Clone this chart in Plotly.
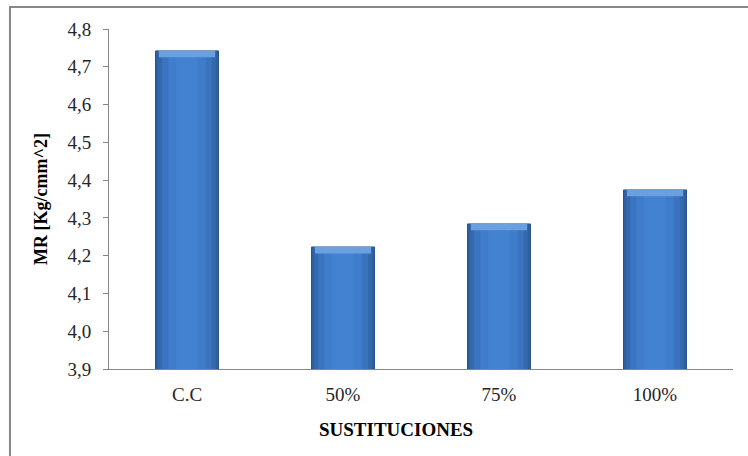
import plotly.graph_objects as go

# Flexural modulus (MR) by substitution level
categories = ["C.C", "50%", "75%", "100%"]
mr_values = [4.742, 4.223, 4.284, 4.374]
y_ticks = [3.9, 4.0, 4.1, 4.2, 4.3, 4.4, 4.5, 4.6, 4.7, 4.8]

fig = go.Figure()

# Stacked-width bars give a shaded, cylinder-like look (dark edges, bright center)
shades = [
    (0.404, "#2E5F9E"),
    (0.37, "#3569AE"),
    (0.32, "#3A74BF"),
    (0.24, "#3F7CCB"),
    (0.14, "#4282D1"),
]
for i, (w, col) in enumerate(shades):
    fig.add_trace(go.Bar(
        x=categories, y=[v - 3.9 for v in mr_values], base=3.9,
        width=w, marker=dict(color=col,
                             line=dict(color="#2A5488" if i == 0 else col, width=1 if i == 0 else 0)),
        hoverinfo="skip", showlegend=False,
    ))

# Lighter bevel along the top of each bar
bevel = 0.017
fig.add_trace(go.Bar(
    x=categories, y=[bevel] * len(mr_values), base=[v - bevel for v in mr_values],
    width=0.36, marker=dict(color="#6A9FE0", line=dict(width=0)),
    hoverinfo="skip", showlegend=False,
))

fig.update_layout(
    width=748, height=456,
    barmode="overlay",
    separators=",.",
    paper_bgcolor="white", plot_bgcolor="white",
    margin=dict(l=109, r=15, t=29, b=87),
    font=dict(family="Liberation Serif, Times New Roman, serif", color="#404040"),
    showlegend=False,
    shapes=[dict(type="rect", xref="paper", yref="paper",
                 x0=-0.1587, x1=1.05, y0=-0.3, y1=1.0647,
                 line=dict(color="#878787", width=2), fillcolor="rgba(0,0,0,0)",
                 layer="below")],
    # Category-axis title, centred on the chart frame
    annotations=[dict(text="<b>SUSTITUCIONES</b>", xref="paper", yref="paper",
                      x=0.4607, y=-0.1765, xanchor="center", yanchor="middle",
                      showarrow=False, font=dict(size=19, color="#000000"))],
)

fig.update_xaxes(
    showline=True, linecolor="#868686", linewidth=1,
    ticks="", tickfont=dict(size=19, color="#262626"),
    ticklabelstandoff=8,
    showgrid=False, zeroline=False,
)
fig.update_yaxes(
    range=[3.9, 4.8], tickvals=y_ticks, tickformat=".1f",
    showline=True, linecolor="#868686", linewidth=1,
    ticks="outside", ticklen=5, tickcolor="#868686",
    tickfont=dict(size=19, color="#262626"),
    ticklabelstandoff=8,
    title=dict(text="<b>MR [Kg/cmm^2]</b>", font=dict(size=18, color="#000000"), standoff=15),
    showgrid=False, zeroline=False,
)

fig.write_html("out.html")
